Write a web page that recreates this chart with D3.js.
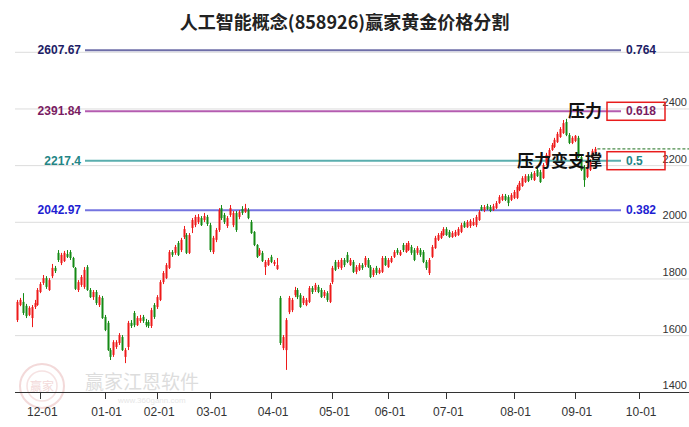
<!DOCTYPE html>
<html><head><meta charset="utf-8">
<script src="https://cdn.jsdelivr.net/npm/d3@7"></script>
<style>body{margin:0;background:#fff;} svg{display:block;font-family:"Liberation Sans",Arial,sans-serif;}</style>
</head><body><svg id="c" width="689" height="427"></svg>
<script>
const title = "人工智能概念(858926)赢家黄金价格分割";
const tickLabels = ["12-01","01-01","02-01","03-01","04-01","05-01","06-01","07-01","08-01","09-01","10-01"];
const tickIndex = [8,30,48,66,87,108,127,147,170,191,213];
const yTickValues = [1400,1600,1800,2000,2200,2400,2600];
const yTickLabels = ["1400","1600","1800","2000","2200","2400",""];
const fibValues = [2607.67, 2391.84, 2217.4, 2042.97];
const fibValueLabels = ["2607.67","2391.84","2217.4","2042.97"];
const fibRatios = ["0.764","0.618","0.5","0.382"];
const notes = ["压力","压力变支撑"];
const noteRatio = ["0.618","0.5"];

const opens = [1655,1708,1719,1705,1673,1662,1701,1708,1754,1786,
1803,1761,1810,1839,1892,1856,1863,1888,1895,1874,
1839,1761,1779,1772,1842,1761,1736,1754,1708,1733,
1666,1645,1549,1532,1560,1574,1595,1525,1560,1645,
1680,1637,1652,1666,1648,1648,1634,1708,1701,1726,
1789,1803,1839,1895,1892,1927,1902,1948,1955,1892,
1980,1990,2001,2015,2008,2019,1990,1895,1938,1973,
2050,2026,1987,2026,1990,2033,2019,2047,2036,2043,
2001,1966,1920,1885,1892,1842,1849,1878,1853,1835,
1733,1556,1549,1683,1690,1743,1761,1743,1715,1708,
1719,1768,1761,1772,1761,1740,1750,1719,1789,1860,
1842,1839,1867,1885,1849,1860,1825,1832,1849,1849,
1867,1842,1814,1839,1821,1825,1874,1842,1860,1878,
1902,1885,1920,1895,1902,1913,1902,1892,1902,1895,
1860,1821,1878,1909,1938,1945,1955,1976,1966,1948,
1952,1955,1966,1998,1983,1987,1990,1990,2008,2054,
2043,2057,2054,2043,2050,2068,2079,2093,2089,2079,
2086,2086,2114,2128,2142,2163,2170,2149,2185,2177,
2156,2209,2230,2255,2266,2283,2301,2315,2354,2308,
2280,2287,2298,2230,2195,2160,2185,2227,2245];
const closes = [1719,1726,1680,1669,1698,1701,1715,1761,1782,1803,
1772,1796,1839,1828,1867,1885,1892,1878,1874,1842,
1765,1789,1807,1832,1761,1736,1754,1715,1736,1662,
1620,1549,1525,1577,1577,1602,1549,1549,1645,1634,
1637,1662,1662,1652,1637,1634,1690,1666,1736,1789,
1821,1849,1895,1885,1913,1885,1938,1976,1892,1955,
2008,2019,2019,1990,2022,1994,1902,1945,1973,2043,
2015,2001,2015,2050,2033,1973,2036,2033,2050,2015,
1962,1920,1878,1902,1863,1860,1867,1860,1860,1849,
1574,1595,1655,1733,1726,1761,1736,1701,1733,1726,
1768,1754,1779,1754,1736,1754,1726,1779,1839,1832,
1860,1867,1849,1860,1867,1825,1842,1849,1839,1874,
1842,1807,1832,1821,1832,1874,1849,1867,1874,1895,
1892,1895,1902,1920,1927,1892,1867,1909,1885,1860,
1839,1867,1913,1945,1955,1962,1976,1955,1948,1962,
1966,1976,1990,1983,2001,2005,2001,2019,2036,2043,
2054,2047,2040,2057,2068,2089,2093,2079,2068,2096,
2107,2125,2139,2156,2163,2146,2156,2174,2163,2142,
2202,2238,2255,2273,2291,2312,2329,2350,2308,2280,
2298,2305,2230,2185,2149,2192,2216,2252,2259];
const highs = [1726,1733,1750,1712,1704,1708,1726,1768,1789,1814,
1810,1803,1853,1846,1902,1892,1899,1902,1902,1878,
1842,1796,1814,1842,1849,1768,1761,1761,1743,1740,
1673,1652,1556,1584,1584,1609,1602,1556,1652,1655,
1687,1669,1673,1673,1659,1655,1698,1715,1743,1796,
1828,1856,1902,1902,1920,1934,1945,1987,1962,1962,
2015,2026,2029,2022,2033,2026,1998,1952,1980,2050,
2061,2033,2022,2061,2040,2040,2043,2057,2065,2050,
2008,1969,1923,1909,1899,1867,1874,1885,1867,1874,
1740,1602,1662,1740,1733,1772,1768,1750,1740,1733,
1775,1775,1786,1779,1768,1761,1757,1786,1846,1867,
1867,1874,1874,1895,1874,1867,1849,1856,1856,1881,
1874,1849,1839,1846,1839,1881,1881,1874,1881,1902,
1909,1902,1927,1927,1934,1920,1909,1916,1909,1902,
1867,1874,1920,1952,1962,1969,1983,1983,1973,1969,
1973,1983,1998,2004,2008,2011,2015,2026,2043,2061,
2061,2065,2061,2065,2075,2096,2100,2100,2096,2103,
2114,2132,2146,2163,2170,2170,2177,2181,2192,2185,
2209,2245,2262,2280,2298,2319,2336,2361,2365,2315,
2304,2308,2305,2238,2202,2199,2223,2259,2266];
const lows = [1648,1704,1673,1662,1669,1630,1694,1705,1750,1779,
1765,1758,1803,1821,1860,1849,1860,1874,1867,1839,
1761,1754,1772,1765,1758,1733,1726,1708,1701,1659,
1616,1546,1514,1525,1553,1567,1546,1503,1549,1627,
1630,1634,1645,1645,1630,1627,1627,1659,1694,1722,
1782,1800,1835,1878,1885,1881,1895,1941,1888,1888,
1962,1983,1994,1987,2001,1987,1895,1888,1930,1966,
2008,1994,1980,2019,1983,1966,2011,2026,2033,2011,
1959,1916,1874,1881,1860,1814,1846,1856,1846,1832,
1567,1549,1479,1676,1683,1736,1729,1698,1708,1704,
1715,1747,1754,1750,1733,1733,1719,1715,1782,1828,
1835,1832,1842,1856,1846,1821,1817,1828,1832,1842,
1839,1803,1807,1814,1817,1821,1846,1839,1856,1874,
1885,1881,1895,1892,1899,1885,1863,1885,1878,1856,
1832,1814,1874,1906,1934,1941,1952,1952,1945,1945,
1948,1952,1962,1980,1980,1980,1987,1983,2005,2040,
2036,2043,2036,2040,2047,2065,2075,2075,2057,2075,
2082,2082,2110,2125,2139,2142,2149,2146,2160,2139,
2153,2202,2227,2252,2262,2280,2298,2312,2304,2276,
2276,2283,2227,2181,2125,2156,2181,2223,2241];

const fibLineColors = ["#6e6ea8","#b45cb0","#5aaeae","#7474e0"];
const fibTextColors = ["#1c1c66","#7a1c62","#238585","#1e1ed2"];
const UP = "#ee1a1a", DOWN = "#148a14";

const svg = d3.select("#c");
const x = d3.scaleLinear().domain([0,213]).range([17,639.2]);
const y = d3.scaleLinear().domain([1400,2600]).range([392.3,52.3]);

// watermark
const wm = svg.append("g").attr("opacity",0.5);
wm.append("circle").attr("cx",42).attr("cy",386).attr("r",22).attr("fill","none").attr("stroke","#e8b4b4").attr("stroke-width",2);
wm.append("circle").attr("cx",42).attr("cy",386).attr("r",15).attr("fill","none").attr("stroke","#eec6c6").attr("stroke-width",1.5);
wm.append("text").attr("x",42).attr("y",391).attr("text-anchor","middle").attr("font-size",12).attr("fill","#e8b4b4").attr("font-family","Noto Sans CJK SC").text("赢家");
wm.append("text").attr("x",85).attr("y",389).attr("font-size",19).attr("fill","#bdbdbd").attr("font-family","Noto Sans CJK SC").text("赢家江恩软件");
wm.append("text").attr("x",118).attr("y",402.5).attr("font-size",8).attr("fill","#cfcfcf").text("www.360gann.com");

// title
svg.append("text").attr("x",344.5).attr("y",29).attr("text-anchor","middle")
  .attr("font-size",18).attr("font-weight","bold").attr("fill","#222")
  .attr("font-family","Noto Sans CJK SC").text(title);

// gridlines
svg.append("g").selectAll("line").data(yTickValues.slice(1)).join("line")
  .attr("x1",15).attr("x2",689).attr("y1",y).attr("y2",y)
  .attr("stroke","#dcdcdc").attr("stroke-width",1);
svg.append("g").selectAll("text").data(yTickValues).join("text")
  .attr("x",687).attr("y",d=>y(d)-3).attr("text-anchor","end")
  .attr("font-size",11).attr("fill","#333").text((d,i)=>yTickLabels[i]);

// fib lines
const fib = svg.append("g");
fibValues.forEach((v,i)=>{
  fib.append("line").attr("x1",85).attr("x2",621).attr("y1",y(v)).attr("y2",y(v))
    .attr("stroke",fibLineColors[i]).attr("stroke-width",2);
  fib.append("text").attr("x",81).attr("y",y(v)+4).attr("text-anchor","end")
    .attr("font-size",12).attr("font-weight","bold").attr("fill",fibTextColors[i]).text(fibValueLabels[i]);
  fib.append("text").attr("x",626).attr("y",y(v)+4)
    .attr("font-size",12).attr("font-weight","bold").attr("fill",fibTextColors[i]).text(fibRatios[i]);
});

// candles
const idx = d3.range(opens.length);
const g = svg.append("g");
g.selectAll("line").data(idx).join("line")
  .attr("x1",i=>Math.round(x(i))+0.5).attr("x2",i=>Math.round(x(i))+0.5)
  .attr("y1",i=>y(highs[i])).attr("y2",i=>y(lows[i]))
  .attr("stroke",i=>closes[i]>=opens[i]?UP:DOWN).attr("stroke-width",1);
g.selectAll("rect").data(idx).join("rect")
  .attr("x",i=>Math.round(x(i))-0.5).attr("width",2)
  .attr("y",i=>y(Math.max(opens[i],closes[i])))
  .attr("height",i=>Math.max(1,Math.abs(y(opens[i])-y(closes[i]))))
  .attr("fill",i=>closes[i]>=opens[i]?UP:DOWN);

// last close dashed
const last = closes.length-1;
svg.append("line").attr("x1",x(last)+2).attr("x2",689).attr("y1",y(closes[last])).attr("y2",y(closes[last]))
  .attr("stroke","#1d6e1d").attr("stroke-width",1).attr("stroke-dasharray","3,2");

// annotations
noteRatio.forEach((r,i)=>{
  const k = fibRatios.indexOf(r);
  const yy = y(fibValues[k]);
  svg.append("rect").attr("x",607).attr("y",yy-9).attr("width",58).attr("height",18)
    .attr("fill","none").attr("stroke","#e81c1c").attr("stroke-width",1.5);
  svg.append("text").attr("x",602).attr("y",yy+6).attr("text-anchor","end")
    .attr("font-size",17).attr("font-weight","bold").attr("fill","#111")
    .attr("font-family","Noto Sans CJK SC").text(notes[i]);
});

// x axis
const ax = svg.append("g");
ax.append("line").attr("x1",15).attr("x2",689).attr("y1",392.5).attr("y2",392.5).attr("stroke","#333");
ax.selectAll("line.t").data(tickIndex).join("line").attr("class","t")
  .attr("x1",d=>Math.round(x(d))+0.5).attr("x2",d=>Math.round(x(d))+0.5)
  .attr("y1",392.5).attr("y2",399).attr("stroke","#333");
ax.selectAll("text").data(tickIndex).join("text")
  .attr("x",d=>x(d)+2).attr("y",416).attr("text-anchor","middle")
  .attr("font-size",12).attr("fill","#333").text((d,i)=>tickLabels[i]);
</script></body></html>
